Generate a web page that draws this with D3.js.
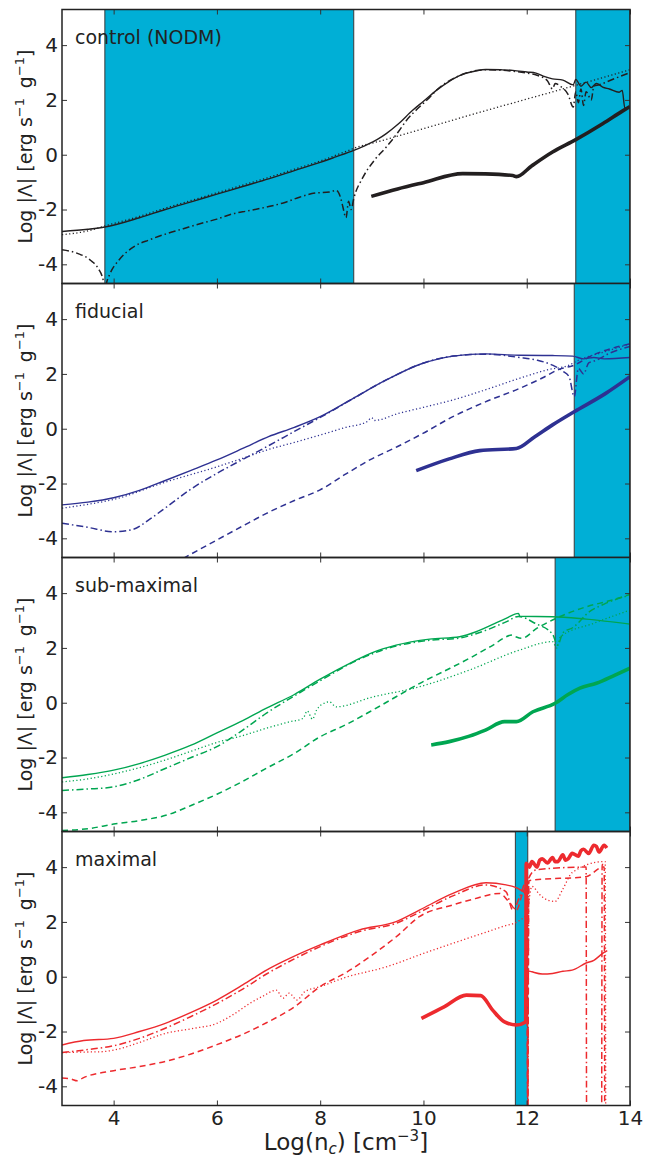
<!DOCTYPE html>
<html>
<head>
<meta charset="utf-8">
<script src="https://cdnjs.cloudflare.com/ajax/libs/d3/7.8.5/d3.min.js"></script>
<style>
  body { margin: 0; background: #fff; }
  svg { display: block; font-family: "DejaVu Sans", sans-serif; }
</style>
</head>
<body>
<div id="chart"></div>
<script>
// axes
const xDomain = [3, 14];
const yDomain = [-4.7, 5.3];
const xTicks = [4, 6, 8, 10, 12, 14];
const yTicks = [-4, -2, 0, 2, 4];
const panelNames = ["control (NODM)", "fiducial", "sub-maximal", "maximal"];
const panelColors = ["#231f20", "#2e3192", "#00a651", "#ed2a2e"];

// shaded ranges (log n)
const ctrlBands = [[3.83, 8.65], [12.95, 14]];
const fidBands = [[12.92, 14]];
const subBands = [[12.55, 14]];
const maxBands = [[11.78, 12.02]];

// control (NODM)
const ctrlSolid = [[3,-2.8],[3.5,-2.72],[3.83,-2.64],[4.5,-2.3],[5,-2.0],[5.5,-1.72],[6,-1.44],[6.5,-1.16],[7,-0.88],[7.5,-0.58],[8,-0.28],[8.3,-0.08],[8.65,0.16],[8.9,0.36],[9.1,0.55],[9.28,0.77],[9.5,1.1],[9.79,1.62],[10,1.95],[10.25,2.35],[10.5,2.68],[10.7,2.89],[11,3.05],[11.21,3.11],[11.5,3.1],[11.73,3.08],[12,3.02],[12.18,2.98],[12.35,2.85],[12.5,2.77],[12.7,2.72],[12.9,2.55],[12.95,2.75],[13.05,2.5],[13.15,2.65],[13.25,2.45],[13.35,2.6],[13.47,2.47],[13.6,2.4],[13.79,2.28],[13.85,2.35],[13.9,1.7],[14,1.72]];
const ctrlDotted = [[3,-2.92],[3.5,-2.78],[3.83,-2.6],[4.5,-2.25],[5,-1.95],[5.5,-1.67],[6,-1.39],[6.5,-1.11],[7,-0.83],[7.5,-0.53],[8,-0.23],[8.5,0.12],[8.8,0.33],[9,0.42],[10,0.95],[11,1.5],[12,2.03],[13,2.56],[14,3.1]];
const ctrlDashDot = [[3,-3.47],[3.3,-3.6],[3.55,-3.85],[3.7,-4.15],[3.8,-4.6],[3.83,-5.0],[3.86,-4.7],[3.93,-4.34],[4.1,-3.85],[4.38,-3.37],[4.7,-3.1],[5.03,-2.88],[5.35,-2.7],[5.67,-2.52],[6,-2.35],[6.32,-2.15],[6.6,-2.05],[6.96,-1.91],[7.3,-1.75],[7.6,-1.55],[7.9,-1.4],[8.18,-1.36],[8.31,-1.3],[8.4,-1.6],[8.44,-1.91],[8.5,-2.3],[8.55,-1.7],[8.6,-2.0],[8.65,-1.6],[8.83,-0.82],[9.05,-0.2],[9.28,0.28],[9.5,0.8],[9.67,1.25],[9.92,1.74],[10.1,2.05],[10.25,2.35],[10.7,2.89],[11.21,3.1],[11.73,3.05],[12,2.98],[12.2,2.9],[12.4,2.7],[12.5,2.4],[12.55,2.6],[12.65,2.5],[12.8,2.2],[12.9,1.74],[12.95,2.3],[13.0,1.9],[13.05,2.4],[13.1,1.8],[13.15,2.3],[13.25,2.0],[13.3,2.5],[13.4,2.55],[13.5,2.62],[13.6,2.7],[14,3.0]];
const ctrlThick = [[8.99,-1.52],[9.5,-1.25],[10,-1.02],[10.76,-0.69],[11.2,-0.7],[11.73,-0.76],[11.8,-0.8],[12.1,-0.4],[12.5,0.1],[12.95,0.55],[13.47,1.13],[13.86,1.6],[14,1.76]];

// fiducial
const fidSolid = [[3,-2.78],[3.5,-2.68],[4,-2.52],[4.5,-2.25],[5,-1.89],[5.5,-1.52],[6,-1.14],[6.5,-0.72],[7,-0.29],[7.5,0.05],[8,0.44],[8.64,1.11],[9.28,1.78],[9.99,2.39],[10.3,2.55],[10.57,2.65],[11.21,2.73],[11.86,2.68],[12.5,2.67],[12.89,2.65],[13.1,2.55],[13.3,2.6],[13.5,2.55],[14,2.6]];
const fidDotted = [[3,-2.9],[3.5,-2.76],[4,-2.58],[5,-1.95],[6,-1.39],[6.5,-1.08],[6.96,-0.78],[7.5,-0.5],[8,-0.23],[8.5,0.05],[8.9,0.25],[9.0,0.4],[9.05,0.3],[9.5,0.55],[10,0.78],[10.57,1.05],[11.2,1.42],[11.86,1.84],[12.4,2.15],[12.82,2.32],[13.0,2.5],[13.5,2.8],[14,3.1]];
const fidDashDot = [[3,-3.45],[3.5,-3.6],[4,-3.76],[4.38,-3.67],[4.7,-3.3],[5.03,-2.85],[5.5,-2.2],[6,-1.63],[6.5,-1.12],[6.96,-0.66],[7.5,-0.1],[8.18,0.6],[8.5,0.95],[9.28,1.78],[9.99,2.39],[10.57,2.65],[11.21,2.72],[11.86,2.6],[12.2,2.5],[12.5,2.32],[12.7,2.1],[12.82,1.9],[12.92,1.17],[13.0,2.2],[13.1,2.0],[13.2,2.4],[13.35,2.5],[13.6,2.75],[14,3.0]];
const fidDashed = [[5.35,-4.73],[6,-4.06],[6.5,-3.55],[6.96,-3.09],[7.5,-2.62],[7.99,-2.24],[8.5,-1.65],[8.96,-1.14],[9.5,-0.65],[9.99,-0.17],[10.57,0.44],[11.2,0.98],[11.86,1.47],[12.3,1.85],[12.63,2.17],[12.89,2.3],[13.3,2.7],[14,3.1]];
const fidThick = [[9.86,-1.53],[10.5,-1.1],[11.09,-0.8],[11.8,-0.72],[12.15,-0.3],[12.5,0.14],[12.92,0.62],[13.53,1.29],[14,1.9]];

// sub-maximal
const subSolid = [[3,-2.74],[3.5,-2.62],[4,-2.46],[4.5,-2.22],[5,-1.91],[5.5,-1.55],[6,-1.1],[6.5,-0.65],[6.96,-0.2],[7.5,0.3],[8,0.86],[8.64,1.5],[9,1.82],[9.47,2.1],[10.12,2.32],[10.7,2.41],[11.02,2.59],[11.3,2.82],[11.6,3.08],[11.84,3.26],[11.87,3.15],[12.5,3.14],[13.15,3.05],[14,2.87]];
const subDotted = [[3,-2.89],[3.5,-2.78],[4,-2.6],[4.5,-2.37],[5,-2.09],[5.5,-1.77],[6,-1.45],[6.5,-1.2],[6.96,-0.93],[7.4,-0.7],[7.67,-0.57],[7.75,-0.3],[7.85,-0.6],[7.93,-0.27],[8.1,0.0],[8.18,0.03],[8.31,-0.15],[9,0.2],[9.92,0.58],[10.9,1.2],[11.86,1.92],[12.5,2.23],[12.58,2.0],[12.65,2.4],[13.3,2.9],[14,3.38]];
const subDashDot = [[3,-3.2],[3.5,-3.15],[4,-3.07],[4.5,-2.8],[5,-2.4],[5.5,-2.0],[6,-1.6],[6.5,-1.0],[6.96,-0.38],[7.5,0.25],[8,0.8],[8.64,1.48],[9.47,2.07],[10.12,2.28],[10.7,2.36],[11.02,2.52],[11.6,2.95],[11.84,3.15],[12.16,2.9],[12.5,2.5],[12.6,2.1],[12.7,2.55],[12.9,2.75],[13.2,3.3],[13.5,3.6],[14,3.93]];
const subDashed = [[3,-4.66],[3.5,-4.6],[4,-4.43],[4.5,-4.3],[5.03,-4.1],[5.5,-3.75],[6,-3.34],[6.5,-2.87],[6.96,-2.39],[7.5,-1.85],[8,-1.24],[8.5,-0.8],[8.96,-0.33],[9.5,0.25],[9.92,0.7],[10.4,1.15],[10.89,1.62],[11.3,2.05],[11.73,2.47],[11.8,2.4],[11.9,2.35],[12.2,2.72],[12.5,3.02],[13.15,3.5],[13.6,3.72],[14,3.95]];
const subThick = [[10.15,-1.54],[10.5,-1.42],[10.89,-1.22],[11.2,-1.0],[11.57,-0.69],[11.8,-0.69],[12.12,-0.33],[12.55,-0.02],[12.8,0.3],[13.03,0.53],[13.35,0.71],[13.7,1.0],[14,1.26]];

// maximal
const maxSolid = [[3,-2.49],[3.42,-2.33],[4,-2.25],[4.5,-2.0],[5,-1.7],[5.5,-1.3],[6,-0.85],[6.5,-0.3],[6.96,0.24],[7.5,0.75],[8,1.16],[8.76,1.71],[9.47,2.01],[9.92,2.43],[10.57,3.04],[11.21,3.43],[11.6,3.35],[11.86,3.19],[11.98,3.0],[11.99,0.24],[12.1,0.18],[12.3,0.1],[12.5,0.12],[12.7,0.2],[12.88,0.24],[13.15,0.5],[13.3,0.6],[13.47,0.85],[13.56,0.95]];
const maxDotted = [[3,-2.77],[3.4,-2.75],[3.74,-2.74],[4,-2.68],[4.5,-2.4],[5,-2.07],[5.5,-1.9],[6,-1.7],[6.3,-1.4],[6.64,-0.97],[6.9,-0.7],[7.15,-0.49],[7.28,-0.78],[7.4,-0.6],[7.55,-0.85],[7.7,-0.55],[8,-0.36],[8.5,-0.02],[9.28,0.36],[10,0.85],[10.57,1.22],[11.53,1.83],[11.86,2.05],[12.0,2.3],[12.1,3.3],[12.25,3.0],[12.4,2.8],[12.55,2.75],[12.7,3.2],[12.88,3.8],[13.48,4.2],[13.52,4.2],[13.53,-5.5]];
const maxDashDot = [[3,-2.77],[3.5,-2.66],[4,-2.52],[4.5,-2.25],[5,-1.88],[5.5,-1.45],[6,-0.98],[6.5,-0.45],[6.96,0.1],[7.5,0.65],[8,1.1],[8.76,1.65],[9.47,1.95],[9.92,2.35],[10.57,2.95],[11.21,3.35],[11.6,3.1],[11.73,2.43],[11.86,2.9],[12.0,3.5],[12.02,-5.5],[12.04,3.6],[12.18,3.9],[13.1,4.0],[13.15,4.0],[13.16,-5.5],[13.45,-5.5],[13.46,4.1],[13.5,4.1]];
const maxDashed = [[3,-3.7],[3.15,-3.72],[3.3,-3.8],[3.4,-3.7],[4,-3.43],[4.5,-3.28],[5,-3.09],[5.5,-2.82],[6,-2.48],[6.5,-2.1],[6.96,-1.68],[7.5,-1.1],[8,-0.36],[8.5,0.15],[8.96,0.73],[9.5,1.5],[9.92,2.19],[10.57,2.62],[11.0,2.85],[11.47,3.04],[11.67,2.7],[11.8,2.43],[11.93,3.1],[12.0,3.3],[12.02,-5.5],[12.04,3.5],[12.11,3.53],[13.15,3.65],[13.48,4.0],[13.5,4.0],[13.51,-5.5]];
const maxThick = [[9.96,-1.52],[10.4,-1.1],[10.83,-0.67],[11.11,-0.69],[11.34,-1.22],[11.57,-1.65],[11.8,-1.76],[11.98,-1.65],[11.99,4.14],[12.05,4.0],[12.1,4.2],[12.2,4.0],[12.25,4.25],[12.3,4.3],[12.4,4.15],[12.5,4.35],[12.55,4.2],[12.6,4.2],[12.7,4.45],[12.75,4.25],[12.8,4.3],[12.88,4.5],[13.0,4.4],[13.05,4.6],[13.1,4.65],[13.2,4.5],[13.3,4.8],[13.35,4.75],[13.4,4.55],[13.5,4.8],[13.55,4.7]];

const panelBands = [ctrlBands, fidBands, subBands, maxBands];
const panelSeries = [
  { solid: ctrlSolid, dotted: ctrlDotted, dashdot: ctrlDashDot, thick: ctrlThick },
  { solid: fidSolid, dotted: fidDotted, dashdot: fidDashDot, dashed: fidDashed, thick: fidThick },
  { solid: subSolid, dotted: subDotted, dashdot: subDashDot, dashed: subDashed, thick: subThick },
  { solid: maxSolid, dotted: maxDotted, dashdot: maxDashDot, dashed: maxDashed, thick: maxThick }
];

const lineStyles = {
  solid: { w: 1.4, dash: null },
  dotted: { w: 1.3, dash: "1.2,2.4" },
  dashed: { w: 1.5, dash: "6,4" },
  dashdot: { w: 1.5, dash: "7,3,1.5,3" },
  thick: { w: 3.6, dash: null }
};

const width = 646, height = 1159;
const left = 62, right = 630, top0 = 9.5, panelH = 274;

const svg = d3.select("#chart").append("svg")
  .attr("width", width)
  .attr("height", height);

const x = d3.scaleLinear().domain(xDomain).range([left, right]);

panelNames.forEach((name, i) => {
  const top = top0 + i * panelH;
  const y = d3.scaleLinear().domain(yDomain).range([top + panelH, top]);
  const color = panelColors[i];

  svg.append("clipPath")
    .attr("id", "clip" + i)
    .append("rect")
    .attr("x", left).attr("y", top)
    .attr("width", right - left).attr("height", panelH);

  const g = svg.append("g").attr("clip-path", `url(#clip${i})`);

  // shaded bands
  g.selectAll(".band")
    .data(panelBands[i])
    .enter()
    .append("rect")
    .attr("class", "band")
    .attr("x", (d) => x(d[0]))
    .attr("y", top)
    .attr("width", (d) => x(d[1]) - x(d[0]))
    .attr("height", panelH)
    .attr("fill", "#00afd6")
    .attr("stroke", "#3a3a3a")
    .attr("stroke-width", 1);

  const line = d3.line()
    .x((d) => x(d[0]))
    .y((d) => y(d[1]))
    .curve(d3.curveMonotoneX);

  Object.entries(panelSeries[i]).forEach(([key, pts]) => {
    const st = lineStyles[key];
    g.append("path")
      .datum(pts)
      .attr("d", line)
      .attr("fill", "none")
      .attr("stroke", color)
      .attr("stroke-width", st.w)
      .attr("stroke-linejoin", "round")
      .attr("stroke-dasharray", st.dash);
  });

  // ticks on all sides, pointing in
  const last = i === panelNames.length - 1;
  const axB = svg.append("g")
    .attr("transform", `translate(0,${top + panelH})`)
    .call(d3.axisBottom(x).tickValues(xTicks).tickSize(-5).tickPadding(5)
      .tickFormat(last ? d3.format("d") : ""));
  const axT = svg.append("g")
    .attr("transform", `translate(0,${top})`)
    .call(d3.axisTop(x).tickValues(xTicks).tickSize(-5).tickFormat(""));
  const axL = svg.append("g")
    .attr("transform", `translate(${left},0)`)
    .call(d3.axisLeft(y).tickValues(yTicks).tickSize(-5).tickPadding(4)
      .tickFormat((d) => String(d)));
  const axR = svg.append("g")
    .attr("transform", `translate(${right},0)`)
    .call(d3.axisRight(y).tickValues(yTicks).tickSize(-5).tickFormat(""));

  [axB, axT, axL, axR].forEach((a) => {
    a.select(".domain").remove();
    a.selectAll("line").attr("stroke", "#333").attr("stroke-width", 1);
    a.selectAll("text")
      .attr("fill", "#222")
      .style("font-size", "20px")
      .style("font-family", '"DejaVu Sans", sans-serif');
  });

  // frame
  svg.append("rect")
    .attr("x", left).attr("y", top)
    .attr("width", right - left).attr("height", panelH)
    .attr("fill", "none")
    .attr("stroke", "#222")
    .attr("stroke-width", 1.5);

  svg.append("text")
    .attr("x", 75)
    .attr("y", top + 34)
    .attr("fill", "#222")
    .style("font-size", "19px")
    .text(name);

  // y label
  const yl = svg.append("text")
    .attr("transform", `translate(32,${top + panelH / 2}) rotate(-90)`)
    .attr("text-anchor", "middle")
    .attr("fill", "#222")
    .style("font-size", "19px");
  yl.append("tspan").text("Log |Λ| [erg s");
  yl.append("tspan").attr("dy", -8).style("font-size", "13px").text("\u2212" + "1");
  yl.append("tspan").attr("dy", 8).text("\u2009 g");
  yl.append("tspan").attr("dy", -8).style("font-size", "13px").text("\u2212" + "1");
  yl.append("tspan").attr("dy", 8).text("]");
});

// x label
const xl = svg.append("text")
  .attr("x", (left + right) / 2)
  .attr("y", 1150)
  .attr("text-anchor", "middle")
  .attr("fill", "#222")
  .style("font-size", "23px");
xl.append("tspan").text("Log(n");
xl.append("tspan").attr("dy", 4).style("font-size", "15px").style("font-style", "italic").text("c");
xl.append("tspan").attr("dy", -4).text(") [cm");
xl.append("tspan").attr("dy", -9).style("font-size", "15px").text("\u2212" + "3");
xl.append("tspan").attr("dy", 9).text("]");
</script>
</body>
</html>
